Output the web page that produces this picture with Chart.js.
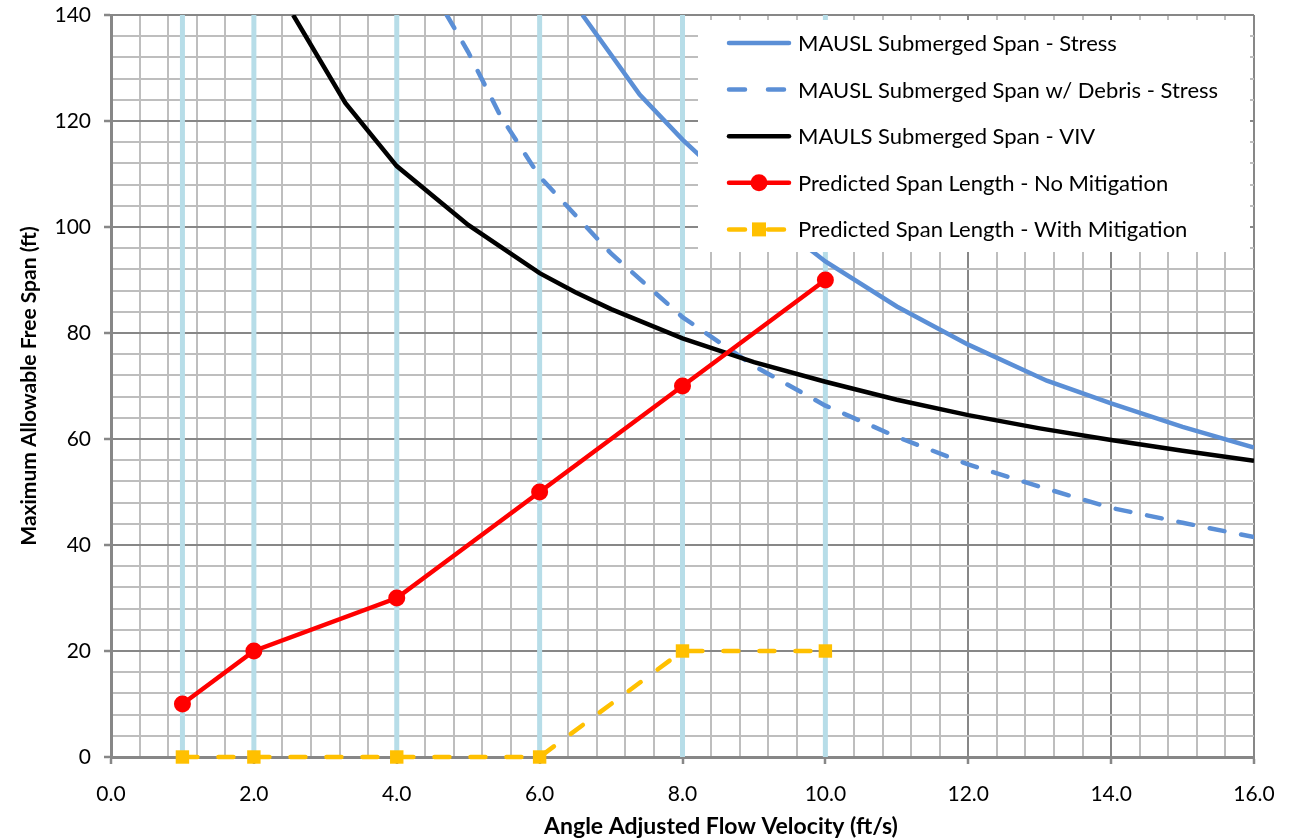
<!DOCTYPE html>
<html>
<head>
<meta charset="utf-8">
<script src="https://cdn.jsdelivr.net/npm/chart.js@4/dist/chart.umd.min.js"></script>
<style>
html, body { margin: 0; padding: 0; background: #ffffff; }
#wrap { width: 1307px; height: 839px; position: relative; }
</style>
</head>
<body>
<div id="wrap"><canvas id="c" width="1307" height="839"></canvas></div>
<script>
// ---- data ----
const stressX = [6.6, 7.4, 8, 9, 10, 11, 12, 13.1, 14, 15, 16];
const stressY = [140, 125, 116.5, 104, 93.5, 85, 77.8, 71, 66.7, 62.3, 58.4];
const debrisX = [4.7, 5, 5.45, 6, 7, 8, 9, 10, 11, 12, 13, 14, 15, 16];
const debrisY = [140, 133, 121, 109.5, 95, 83, 73.8, 66.3, 60.4, 55.2, 51, 47, 44.2, 41.5];
const vivX = [2.55, 3.28, 4, 5, 6, 6.5, 7, 8, 9, 10, 11, 12, 13, 14, 15, 16];
const vivY = [140, 123.4, 111.5, 100.4, 91.3, 87.7, 84.5, 79, 74.5, 70.8, 67.4, 64.5, 62, 59.8, 57.8, 55.9];
const predX = [1, 2, 4, 6, 8, 10];
const noMitigationY = [10, 20, 30, 50, 70, 90];
const withMitigationY = [0, 0, 0, 0, 20, 20];
const refLinesX = [1, 2, 4, 6, 8, 10];
const seriesNames = [
  'MAUSL Submerged Span - Stress',
  'MAUSL Submerged Span w/ Debris - Stress',
  'MAULS Submerged Span - VIV',
  'Predicted Span Length - No Mitigation',
  'Predicted Span Length - With Mitigation'
];
const xTitle = 'Angle Adjusted Flow Velocity (ft/s)';
const yTitle = 'Maximum Allowable Free Span (ft)';

const FONT = 'Lato, Carlito, "Open Sans", sans-serif';
const BLUE = '#5B8FD6';
const RED = '#FF0000';
const YELLOW = '#FFC000';
const REFBLUE = '#B7DDE8';
const MAJOR = '#878787';
const MINOR = '#BEBEBE';

const pts = (xs, ys) => xs.map((x, i) => ({ x: x, y: ys[i] }));
const isMult = (v, m) => Math.abs(v / m - Math.round(v / m)) < 1e-6;

const refLinesPlugin = {
  id: 'refLines',
  beforeDatasetsDraw(chart) {
    const { ctx, chartArea, scales } = chart;
    ctx.save();
    ctx.strokeStyle = REFBLUE;
    ctx.lineWidth = 5;
    refLinesX.forEach(v => {
      const px = scales.x.getPixelForValue(v);
      ctx.beginPath();
      ctx.moveTo(px, chartArea.top);
      ctx.lineTo(px, chartArea.bottom);
      ctx.stroke();
    });
    ctx.restore();
  }
};

const xTitlePlugin = {
  id: 'xTitle',
  afterDraw(chart) {
    const { ctx, chartArea } = chart;
    ctx.save();
    ctx.fillStyle = '#000000';
    ctx.font = 'bold 23px ' + FONT;
    ctx.textAlign = 'center';
    ctx.textBaseline = 'alphabetic';
    ctx.fillText(xTitle, chartArea.left + 610, chartArea.bottom + 77);
    ctx.restore();
  }
};

const legendPlugin = {
  id: 'boxLegend',
  afterDraw(chart) {
    const { ctx, chartArea } = chart;
    const left = chartArea.left + 587;
    const top = chartArea.top + 5;
    const right = chartArea.right - 4;
    const bottom = chartArea.top + 237;
    ctx.save();
    ctx.fillStyle = '#ffffff';
    ctx.fillRect(left, top, right - left, bottom - top);
    const styles = [
      { color: BLUE, dash: [], marker: null },
      { color: BLUE, dash: [16, 23], marker: null },
      { color: '#000000', dash: [], marker: null },
      { color: RED, dash: [], marker: 'circle' },
      { color: YELLOW, dash: [16, 23], marker: 'square' }
    ];
    const x0 = left + 31, x1 = left + 91, xm = (x0 + x1) / 2;
    seriesNames.forEach((name, i) => {
      const y = chartArea.top + 28 + i * 46.6;
      const s = styles[i];
      ctx.strokeStyle = s.color;
      ctx.lineWidth = 4.5;
      ctx.lineCap = 'round';
      ctx.setLineDash(s.dash);
      ctx.beginPath();
      ctx.moveTo(x0, y);
      ctx.lineTo(x1, y);
      ctx.stroke();
      ctx.setLineDash([]);
      ctx.fillStyle = s.color;
      if (s.marker === 'circle') {
        ctx.beginPath();
        ctx.arc(xm, y, 8.5, 0, Math.PI * 2);
        ctx.fill();
      } else if (s.marker === 'square') {
        ctx.fillRect(xm - 7, y - 7, 14, 14);
      }
      ctx.fillStyle = '#000000';
      ctx.font = '22px ' + FONT;
      ctx.textAlign = 'left';
      ctx.textBaseline = 'middle';
      ctx.fillText(name, x1 + 9, y + 1);
    });
    ctx.restore();
  }
};

const chart = new Chart(document.getElementById('c'), {
  type: 'scatter',
  data: {
    datasets: [
      {
        label: seriesNames[3], data: pts(predX, noMitigationY), showLine: true,
        borderColor: RED, backgroundColor: RED, borderWidth: 4.5,
        pointRadius: 8.5, pointHoverRadius: 8.5, pointBorderWidth: 0, pointStyle: 'circle', clip: false
      },
      {
        label: seriesNames[4], data: pts(predX, withMitigationY), showLine: true,
        borderColor: YELLOW, backgroundColor: YELLOW, borderWidth: 4.5, borderDash: [15, 21], borderCapStyle: 'round',
        pointRadius: 9.5, pointHoverRadius: 9.5, pointBorderWidth: 0, pointStyle: 'rect', clip: false
      },
      {
        label: seriesNames[2], data: pts(vivX, vivY), showLine: true,
        borderColor: '#000000', borderWidth: 4.5, pointRadius: 0
      },
      {
        label: seriesNames[1], data: pts(debrisX, debrisY), showLine: true,
        borderColor: BLUE, borderWidth: 4.5, borderDash: [15, 17], borderCapStyle: 'round', pointRadius: 0
      },
      {
        label: seriesNames[0], data: pts(stressX, stressY), showLine: true,
        borderColor: BLUE, borderWidth: 4.5, pointRadius: 0
      }
    ]
  },
  options: {
    responsive: false,
    animation: false,
    layout: { padding: { left: 0, right: 53, top: 15, bottom: 0 } },
    plugins: { legend: { display: false }, tooltip: { enabled: false } },
    scales: {
      x: {
        type: 'linear', min: 0, max: 16,
        afterFit: s => { s.height = 82; s.paddingLeft = 0; s.paddingRight = 0; },
        ticks: {
          stepSize: 0.4, autoSkip: false, maxRotation: 0, minRotation: 0,
          padding: 18, color: '#000000', font: { family: FONT, size: 21 },
          callback: v => isMult(v, 2) ? v.toFixed(1) : ''
        },
        grid: {
          lineWidth: 2, tickLength: 7, tickWidth: 2.5,
          color: c => (c.tick && isMult(c.tick.value, 2)) ? MAJOR : MINOR,
          tickColor: c => (c.tick && isMult(c.tick.value, 2)) ? MAJOR : 'rgba(0,0,0,0)'
        },
        border: { color: MAJOR, width: 3 },
        title: { display: false }
      },
      y: {
        type: 'linear', min: 0, max: 140,
        afterFit: s => { s.width = 111; s.paddingTop = 0; s.paddingBottom = 0; },
        ticks: {
          stepSize: 4, autoSkip: false, padding: 13, color: '#000000',
          font: { family: FONT, size: 21 },
          callback: v => isMult(v, 20) ? String(v) : ''
        },
        grid: {
          lineWidth: 2, tickLength: 7, tickWidth: 2.5,
          color: c => (c.tick && isMult(c.tick.value, 20)) ? MAJOR : MINOR,
          tickColor: c => (c.tick && isMult(c.tick.value, 20)) ? MAJOR : 'rgba(0,0,0,0)'
        },
        border: { color: MAJOR, width: 3 },
        title: {
          display: true, text: yTitle, color: '#000000',
          font: { family: FONT, size: 21, weight: 'bold' }, padding: { top: 17, bottom: 0 }
        }
      }
    }
  },
  plugins: [refLinesPlugin, legendPlugin, xTitlePlugin]
});
</script>
</body>
</html>
